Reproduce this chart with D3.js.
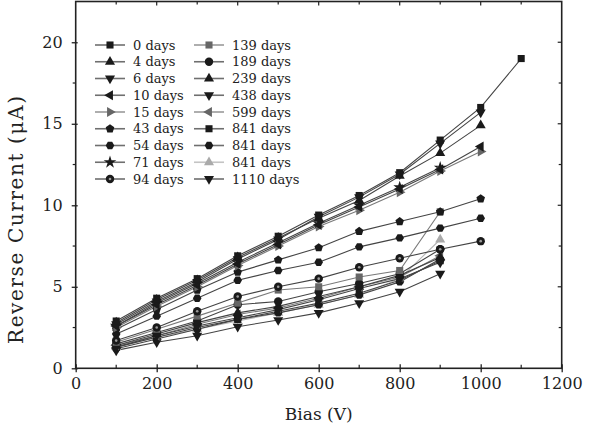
<!DOCTYPE html>
<html>
<head>
<meta charset="utf-8">
<script src="https://cdn.jsdelivr.net/npm/d3@7"></script>
<style>
  html, body { margin: 0; padding: 0; background: #fff; }
  svg { display: block; }
  svg text { font-family: "DejaVu Serif", "Liberation Serif", serif; fill: #222; }
</style>
</head>
<body>
<svg id="chart" width="591" height="438"></svg>
<script>
// Bias voltages (V)
const biasFull = [100, 200, 300, 400, 500, 600, 700, 800, 900, 1000, 1100];

// Series labels (days after irradiation) and their reverse-current readings (µA)
const labels = ["0 days", "4 days", "6 days", "10 days", "15 days", "43 days", "54 days", "71 days", "94 days",
                "139 days", "189 days", "239 days", "438 days", "599 days", "841 days", "841 days", "841 days", "1110 days"];

const d0    = [2.9, 4.3, 5.5, 6.9, 8.1, 9.4, 10.6, 12.0, 14.0, 16.0, 19.0];
const d4    = [2.8, 4.2, 5.4, 6.8, 8.0, 9.2, 10.3, 11.8, 13.2, 14.9];
const d6    = [2.7, 4.1, 5.3, 6.7, 7.9, 9.3, 10.5, 11.9, 13.8, 15.7];
const d10   = [2.6, 3.9, 5.1, 6.4, 7.6, 8.8, 9.9, 11.0, 12.2, 13.6];
const d15   = [2.5, 3.8, 5.0, 6.3, 7.5, 8.7, 9.7, 10.8, 12.1, 13.3];
const d43   = [2.4, 3.6, 4.8, 5.9, 6.65, 7.4, 8.4, 9.0, 9.6, 10.4];
const d54   = [2.1, 3.2, 4.3, 5.4, 6.0, 6.5, 7.45, 8.0, 8.6, 9.2];
const d71   = [2.6, 4.0, 5.2, 6.5, 7.7, 8.9, 10.0, 11.1, 12.3];
const d94   = [1.7, 2.5, 3.5, 4.4, 5.0, 5.5, 6.2, 6.75, 7.3, 7.8];
const d139  = [1.6, 2.4, 3.2, 4.0, 4.8, 5.0, 5.6, 6.0, 9.6];
const d189  = [1.5, 2.2, 2.9, 3.9, 4.1, 4.7, 5.2, 5.8, 7.3];
const d239  = [1.4, 2.1, 2.8, 3.4, 3.8, 4.4, 5.0, 5.7, 6.8];
const d438  = [1.3, 2.0, 2.6, 3.1, 3.6, 4.2, 4.9, 5.5, 6.5];
const d599  = [1.4, 2.0, 2.7, 3.3, 3.7, 4.3, 5.0, 5.6, 6.9];
const d841a = [1.3, 1.9, 2.5, 3.0, 3.5, 4.0, 4.6, 5.4, 6.6];
const d841b = [1.2, 1.8, 2.4, 3.0, 3.4, 3.9, 4.5, 5.3, 6.7];
const d841c = [1.3, 1.9, 2.4, 2.9, 3.4, 3.9, 4.5, 5.5, 7.9];
const d1110 = [1.1, 1.6, 2.0, 2.55, 2.96, 3.4, 4.0, 4.7, 5.8];

const seriesValues = [d0, d4, d6, d10, d15, d43, d54, d71, d94, d139, d189, d239, d438, d599, d841a, d841b, d841c, d1110];

// Marker shape per series, and tone (0 = dark, 1 = mid grey, 2 = light grey)
const shapes = ["square", "triUp", "triDown", "triLeft", "triRight", "pentagon", "hexagon", "star", "ringDot",
                "square", "circle", "triUp", "triDown", "triLeft", "square", "hexagon", "triUp", "triDown"];
const tones  = [0, 0, 0, 0, 1, 0, 0, 0, 0, 1, 0, 0, 0, 1, 0, 0, 2, 0];

const xTicks = [0, 200, 400, 600, 800, 1000, 1200];
const yTicks = [0, 5, 10, 15, 20];

const svg = d3.select("#chart");
const plotL = 75.7, plotR = 561.7, plotT = 1.5, plotB = 368.3;
const serif = "'DejaVu Serif', 'Liberation Serif', serif";

const x = d3.scaleLinear().domain([0, 1200]).range([plotL, plotR]);
const y = d3.scaleLinear().domain([0, 22.5]).range([plotB, plotT]);

const lineColor = ["#444", "#7a7a7a", "#b5b5b5"];
const markColor = ["#1a1a1a", "#666", "#aaa"];

function polygon(n, r, rot) {
  const pts = [];
  for (let i = 0; i < n; i++) {
    const a = rot + i * 2 * Math.PI / n;
    pts.push([r * Math.cos(a), r * Math.sin(a)]);
  }
  return "M" + pts.map(p => p[0].toFixed(2) + "," + p[1].toFixed(2)).join("L") + "Z";
}

function markerPath(shape) {
  const tri = d3.symbol(d3.symbolTriangle, 44)();
  switch (shape) {
    case "square": return { d: d3.symbol(d3.symbolSquare, 50)(), rot: 0 };
    case "triUp": return { d: tri, rot: 0 };
    case "triDown": return { d: tri, rot: 180 };
    case "triLeft": return { d: tri, rot: -90 };
    case "triRight": return { d: tri, rot: 90 };
    case "pentagon": return { d: polygon(5, 4.5, -Math.PI / 2), rot: 0 };
    case "hexagon": return { d: polygon(6, 4.3, 0), rot: 0 };
    case "star": return { d: d3.symbol(d3.symbolStar, 50)(), rot: 0 };
    case "ringDot": return { d: d3.symbol(d3.symbolCircle, 56)(), rot: 0 };
    default: return { d: d3.symbol(d3.symbolCircle, 56)(), rot: 0 };
  }
}

function drawMarker(g, shape, tone, cx, cy) {
  const m = markerPath(shape);
  g.append("path")
    .attr("d", m.d)
    .attr("transform", `translate(${cx},${cy}) rotate(${m.rot})`)
    .attr("fill", markColor[tone]);
  if (shape === "ringDot") {
    g.append("circle").attr("cx", cx).attr("cy", cy).attr("r", 1.3).attr("fill", "#9a9a9a");
  }
}

// Series lines and markers
const plot = svg.append("g");
const line = d3.line().x(d => x(d[0])).y(d => y(d[1]));
const order = d3.range(seriesValues.length).reverse();
order.forEach(i => {
  const pts = seriesValues[i].map((v, k) => [biasFull[k], v]);
  plot.append("path")
    .attr("d", line(pts))
    .attr("fill", "none")
    .attr("stroke", lineColor[tones[i]])
    .attr("stroke-width", 1.1);
});
order.forEach(i => {
  const g = plot.append("g");
  seriesValues[i].forEach((v, k) => drawMarker(g, shapes[i], tones[i], x(biasFull[k]), y(v)));
});

// Frame and ticks
const axisColor = "#222";
svg.append("rect")
  .attr("x", plotL).attr("y", plotT).attr("width", plotR - plotL).attr("height", plotB - plotT)
  .attr("fill", "none").attr("stroke", axisColor).attr("stroke-width", 1.6);

const xAxis = svg.append("g").attr("transform", `translate(0,${plotB})`)
  .call(d3.axisBottom(x).tickValues(xTicks).tickSize(4).tickFormat(d3.format("d")));
xAxis.select(".domain").remove();
xAxis.selectAll(".tick line").attr("y1", -4).attr("stroke", axisColor).attr("stroke-width", 1.3);
xAxis.selectAll(".tick text").attr("y", 9).attr("font-size", 16).attr("font-family", serif).attr("fill", "#222");

const xMinor = d3.range(100, 1200, 200);
svg.append("g").selectAll("line").data(xMinor).join("line")
  .attr("x1", d => x(d)).attr("x2", d => x(d)).attr("y1", plotB).attr("y2", plotB - 3.5)
  .attr("stroke", axisColor).attr("stroke-width", 1.2);
svg.append("g").selectAll("line").data(d3.range(100, 1200, 100)).join("line")
  .attr("x1", d => x(d)).attr("x2", d => x(d)).attr("y1", plotT).attr("y2", d => plotT + (d % 200 === 0 ? 4 : 3))
  .attr("stroke", axisColor).attr("stroke-width", 1.2);

const yAxis = svg.append("g").attr("transform", `translate(${plotL},0)`)
  .call(d3.axisLeft(y).tickValues(yTicks).tickSize(4).tickPadding(9));
yAxis.select(".domain").remove();
yAxis.selectAll(".tick line").attr("x1", 2).attr("stroke", axisColor).attr("stroke-width", 1.3);
yAxis.selectAll(".tick text").attr("font-size", 16).attr("font-family", serif).attr("fill", "#222");

const yMinor = [2.5, 7.5, 12.5, 17.5];
svg.append("g").selectAll("line").data(yMinor).join("line")
  .attr("x1", plotL - 3).attr("x2", plotL).attr("y1", d => y(d)).attr("y2", d => y(d))
  .attr("stroke", axisColor).attr("stroke-width", 1.2);
svg.append("g").selectAll("line").data([2.5, 5, 7.5, 10, 12.5, 15, 17.5, 20]).join("line")
  .attr("x1", plotR).attr("x2", d => plotR - (d % 5 === 0 ? 4 : 3)).attr("y1", d => y(d)).attr("y2", d => y(d))
  .attr("stroke", axisColor).attr("stroke-width", 1.2);

// Axis titles
svg.append("text").attr("x", (plotL + plotR) / 2).attr("y", 420)
  .attr("text-anchor", "middle").attr("font-size", 17).attr("font-family", serif).text("Bias (V)");
svg.append("text")
  .attr("transform", `translate(23,220) rotate(-90)`)
  .attr("text-anchor", "middle").attr("font-size", 20).attr("font-family", serif)
  .attr("textLength", 248).attr("lengthAdjust", "spacing")
  .text("Reverse Current (\u03bcA)");

// Legend (two columns of nine)
const legend = svg.append("g");
const rowH = 16.75;
labels.forEach((lab, i) => {
  const col = Math.floor(i / 9), row = i % 9;
  const lx = col === 0 ? 95 : 194;
  const ly = 45 + row * rowH;
  const g = legend.append("g");
  g.append("line").attr("x1", lx).attr("x2", lx + 30).attr("y1", ly).attr("y2", ly)
    .attr("stroke", tones[i] === 2 ? "#c4c4c4" : (tones[i] === 1 ? "#9a9a9a" : "#6f6f6f")).attr("stroke-width", 1.6);
  drawMarker(g, shapes[i], tones[i], lx + 15, ly);
  g.append("text").attr("x", lx + 38).attr("y", ly + 4.5).attr("font-size", 13).attr("font-family", serif).text(lab);
});
</script>
</body>
</html>
